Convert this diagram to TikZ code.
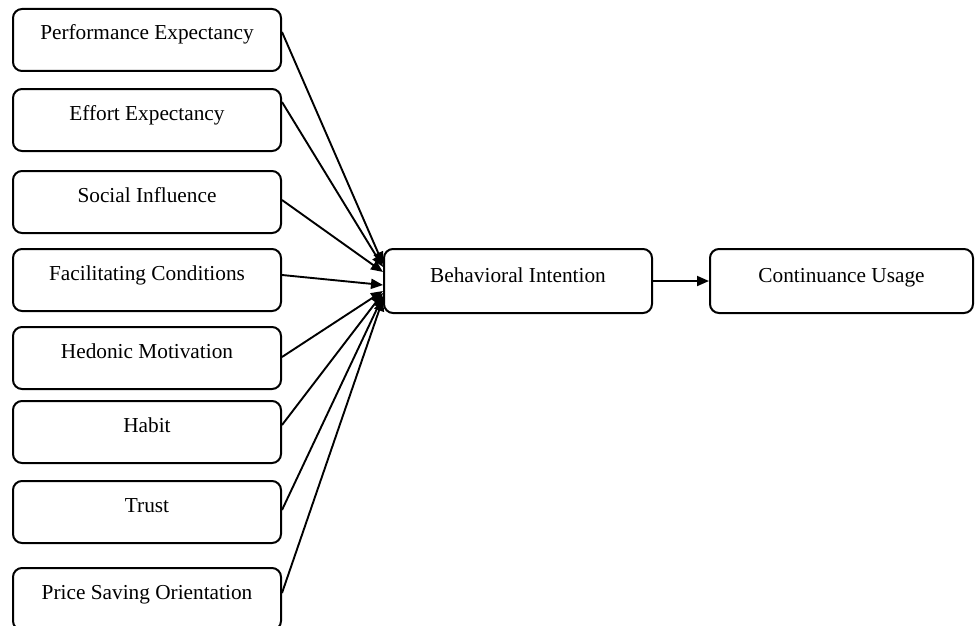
\documentclass[tikz,border=0pt]{standalone}
\usepackage{fontspec}
\setmainfont{Liberation Serif}
\usetikzlibrary{arrows.meta}

\begin{document}
\begin{tikzpicture}[x=1pt,y=-1pt,
	box/.style={draw, rounded corners=9pt, line width=2pt, inner sep=0pt, anchor=north, minimum width=268pt, text height=31pt, text depth=31pt, font=\fontsize{21.3}{25}\selectfont},
	link/.style={line width=1.9pt, -{Triangle[length=12pt,width=10pt]}}]
	\useasboundingbox (0,0) rectangle (977,626);
	
	\node[box] (pe) at (147,8) {Performance Expectancy};
	\node[box] (ee) at (147,88) {Effort Expectancy};
	\node[box] (si) at (147,170) {Social Influence};
	\node[box] (fc) at (147,248) {Facilitating Conditions};
	\node[box] (hm) at (147,326) {Hedonic Motivation};
	\node[box] (hb) at (147,400) {Habit};
	\node[box] (tr) at (147,480) {Trust};
	\node[box] (ps) at (147,567) {Price Saving Orientation};
	
	\node[box, text height=33pt, text depth=31pt] (bi) at (518,248) {Behavioral Intention};
	\node[box, minimum width=263pt, text height=33pt, text depth=31pt] (cu) at (841.5,248) {Continuance Usage};
	
	\draw [link] ([yshift=-24pt]pe.north east) -- ([yshift=-16pt]bi.north west);
	\draw [link] ([yshift=-14pt]ee.north east) -- ([yshift=-19pt]bi.north west);
	\draw [link] ([yshift=-30pt]si.north east) -- ([yshift=-24pt]bi.north west);
	\draw [link] ([yshift=-27pt]fc.north east) -- ([yshift=-37pt]bi.north west);
	\draw [link] ([yshift=-31pt]hm.north east) -- ([yshift=-43pt]bi.north west);
	\draw [link] ([yshift=-25pt]hb.north east) -- ([yshift=-45pt]bi.north west);
	\draw [link] ([yshift=-30pt]tr.north east) -- ([yshift=-48pt]bi.north west);
	\draw [link] ([yshift=-26pt]ps.north east) -- ([yshift=-51pt]bi.north west);
	\draw [link] (bi) -- (cu);
\end{tikzpicture}
\end{document}
